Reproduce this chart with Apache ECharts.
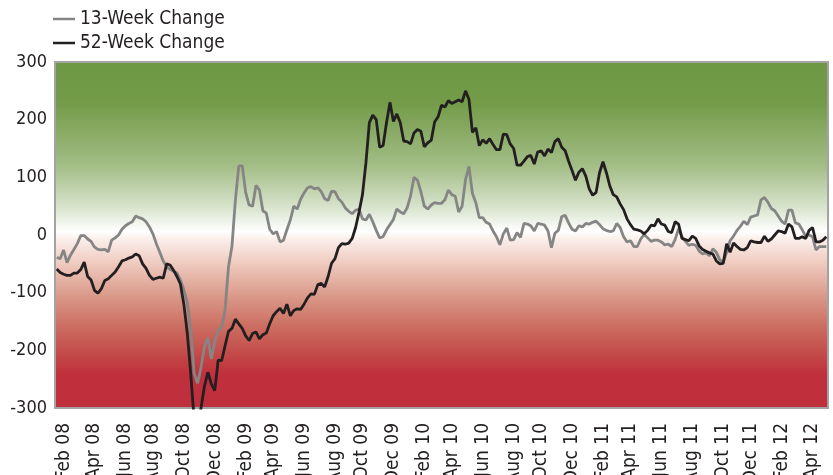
<!DOCTYPE html>
<html>
<head>
<meta charset="utf-8">
<script src="https://cdn.jsdelivr.net/npm/echarts@6/dist/echarts.min.js"></script>
<style>
  html, body { margin: 0; padding: 0; background: #fff; }
  #chart { width: 833px; height: 475px; }
</style>
</head>
<body>
<div id="chart"></div>
<script>
// weekly readings, first one taken Fri 18 Jan 2008
var firstWeek = '2008-01-18';
var monthNames = ['Jan', 'Feb', 'Mar', 'Apr', 'May', 'Jun', 'Jul', 'Aug', 'Sep', 'Oct', 'Nov', 'Dec'];

var change13 = [
  -39, -41, -26, -48, -35, -25, -15, -1, -1, -7,
  -11, -21, -25, -26, -25, -29, -9, -5, 0, 10,
  16, 20, 23, 33, 30, 28, 23, 14, 2, -15,
  -30, -45, -55, -60, -63, -66, -78, -95, -117, -160,
  -240, -257, -230, -193, -178, -215, -185, -165, -160, -130,
  -55, -20, 60, 120, 120, 74, 52, 50, 86, 78,
  42, 38, 10, 2, 6, -12, -9, 9, 26, 50,
  45, 62, 73, 82, 84, 80, 82, 75, 63, 60,
  76, 75, 63, 57, 47, 41, 37, 43, 45, 28,
  26, 36, 23, 8, -5, -3, 9, 18, 27, 45,
  40, 37, 47, 68, 100, 95, 75, 50, 45, 52,
  56, 55, 55, 61, 78, 70, 67, 40, 50, 96,
  119, 72, 56, 30, 30, 22, 19, 7, -3, -17,
  2, 12, -9, -8, 4, -4, 20, 19, 16, 7,
  20, 19, 17, 7, -22, 3, 8, 32, 34, 21,
  10, 7, 16, 14, 20, 19, 22, 24, 18, 11,
  8, 6, 7, 20, 13, -3, -12, -10, -20, -20,
  -7, 1, -5, -11, -9, -9, -12, -17, -16, -20,
  -8, 11, -3, -11, -18, -16, -18, -28, -33, -31,
  -36, -24, -30, -43, -48, -30, -10, -2, 8, 15,
  24, 18, 31, 33, 35, 61, 65, 57, 46, 42,
  33, 24, 19, 43, 43, 21, 19, 9, -2, 0,
  -3, -26, -20, -20, -20
];

var change52 = [
  -59, -65, -68, -70, -70, -66, -66, -60, -47, -72,
  -78, -96, -101, -93, -79, -76, -70, -64, -55, -45,
  -43, -40, -38, -33, -36, -50, -58, -70, -77, -75,
  -73, -75, -50, -52, -61, -72, -85, -120, -170, -240,
  -320, -340, -300, -262, -238, -258, -270, -217, -218, -192,
  -167, -162, -146, -154, -162, -175, -183, -171, -168, -180,
  -173, -170, -154, -140, -133, -127, -136, -120, -140, -131,
  -128, -129, -120, -109, -102, -103, -86, -84, -90, -72,
  -49, -41, -22, -15, -16, -14, -6, 13, 40, 70,
  125, 195, 208, 200, 152, 155, 195, 230, 197, 210,
  195, 163, 162, 158, 177, 183, 180, 153, 160, 164,
  196, 205, 225, 222, 233, 228, 231, 234, 231, 250,
  235, 178, 186, 155, 165, 159, 167, 157, 148, 148,
  175, 174, 158, 150, 121, 121, 128, 136, 138, 123,
  144, 146, 137, 149, 143, 162, 167, 152, 146, 128,
  112, 95, 109, 115, 102, 80, 69, 74, 108, 127,
  108, 85, 70, 66, 54, 44, 28, 18, 10, 9,
  7, 2, 8, 17, 16, 28, 19, 17, 6, 4,
  23, 19, -6, -8, -10, -2, -6, -19, -25, -28,
  -31, -33, -45, -50, -49, -15, -30, -14, -20, -25,
  -26, -22, -10, -12, -13, -13, -2, -11, -7, 0,
  7, 6, 3, 19, 14, -6, -6, -3, -6, 8,
  13, -12, -12, -9, -3
];

var weeks = [];
var d0 = new Date(firstWeek + 'T00:00:00Z').getTime();
for (var i = 0; i < change13.length; i++) {
  weeks.push(new Date(d0 + i * 7 * 86400000).toISOString().slice(0, 10));
}

// label the first week of every even month: "Feb 08"
function weekLabel(s) {
  var m = +s.slice(5, 7), day = +s.slice(8, 10);
  if (m % 2 === 0 && day <= 7) return monthNames[m - 1] + ' ' + s.slice(2, 4);
  return '';
}

var font = "'Liberation Sans Narrow', 'DejaVu Sans Condensed', sans-serif";
var chart = echarts.init(document.getElementById('chart'));

var option = {
  animation: false,
  backgroundColor: '#fff',
  legend: {
    orient: 'vertical',
    left: 48,
    top: 2,
    icon: 'rect',
    itemWidth: 22,
    itemHeight: 2.5,
    itemGap: 0,
    textStyle: { fontFamily: font, fontSize: 19, color: '#231f20', lineHeight: 24 },
    data: ['13-Week Change', '52-Week Change']
  },
  grid: {
    left: 55,
    right: 5,
    top: 62,
    bottom: 67,
    outerBoundsMode: 'none',
    containLabel: false,
    show: true,
    borderColor: '#a3a3a3',
    borderWidth: 2,
    backgroundColor: new echarts.graphic.LinearGradient(0, 0, 0, 1, [
      { offset: 0, color: '#6d9844' },
      { offset: 0.12, color: '#739b48' },
      { offset: 0.3, color: '#a3bd86' },
      { offset: 0.42, color: '#d8e3cc' },
      { offset: 0.49, color: '#ffffff' },
      { offset: 0.51, color: '#fbf0ec' },
      { offset: 0.58, color: '#efcbc0' },
      { offset: 0.67, color: '#db9c8c' },
      { offset: 0.76, color: '#cc6f62' },
      { offset: 0.85, color: '#c34747' },
      { offset: 0.9, color: '#c0303c' },
      { offset: 1, color: '#c0303c' }
    ])
  },
  xAxis: {
    type: 'category',
    data: weeks,
    boundaryGap: true,
    axisLine: { show: false },
    axisTick: { show: false },
    axisLabel: {
      rotate: 90,
      margin: 15,
      fontFamily: font,
      fontSize: 19,
      color: '#231f20',
      interval: function (index, value) { return weekLabel(value) !== ''; },
      formatter: weekLabel
    }
  },
  yAxis: {
    type: 'value',
    min: -300,
    max: 300,
    interval: 100,
    axisLine: { show: false },
    axisTick: { show: false },
    splitLine: { show: false },
    axisLabel: { fontFamily: font, fontSize: 18, color: '#231f20', margin: 8 }
  },
  series: [
    {
      name: '13-Week Change',
      type: 'line',
      data: change13,
      symbol: 'none',
      color: '#858585',
      lineStyle: { color: '#858585', width: 2.8 },
      z: 2
    },
    {
      name: '52-Week Change',
      type: 'line',
      data: change52,
      symbol: 'none',
      color: '#231f20',
      lineStyle: { color: '#231f20', width: 2.8 },
      z: 3
    }
  ]
};
chart.setOption(option);
</script>
</body>
</html>
